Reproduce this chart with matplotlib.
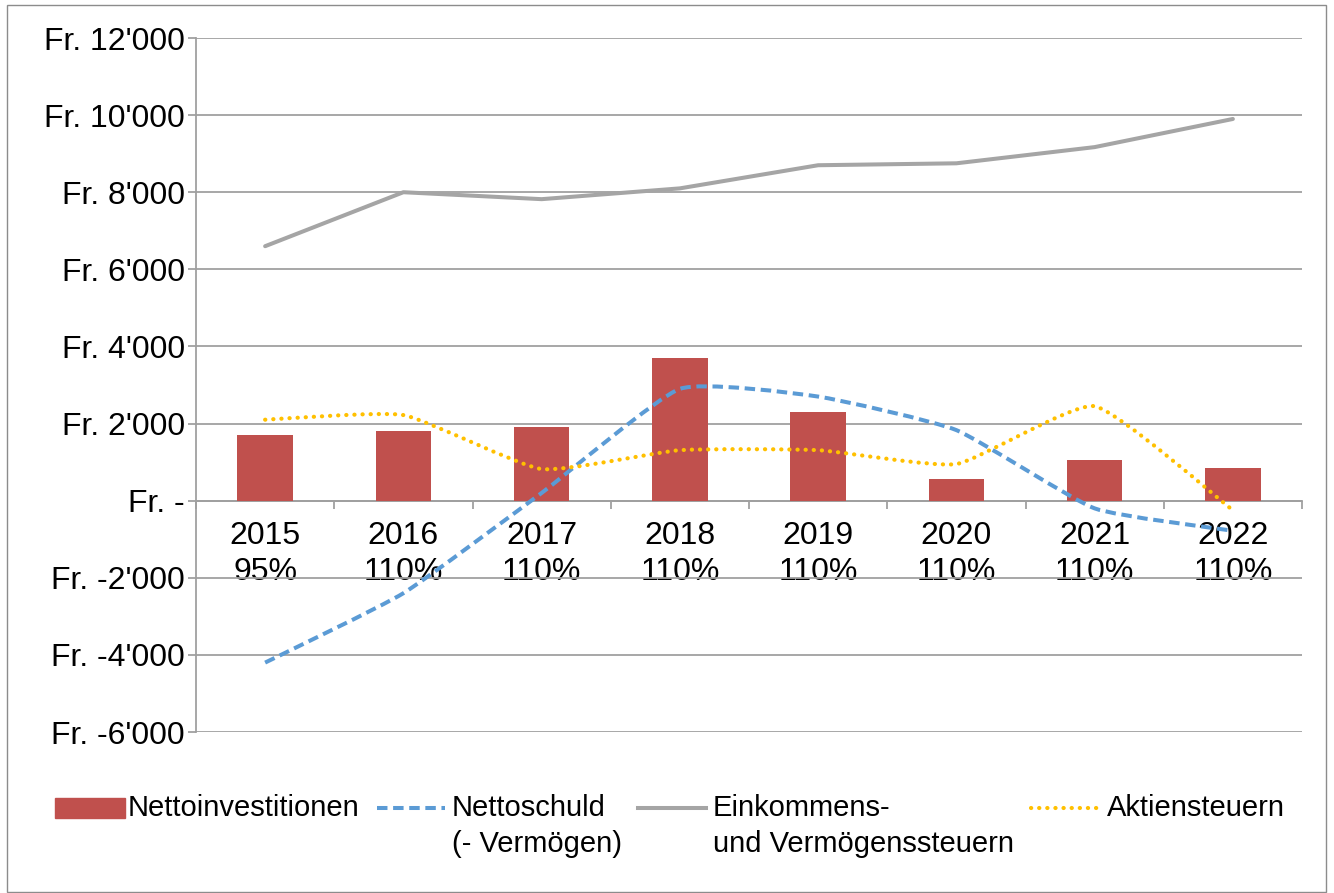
import numpy as np
import matplotlib
matplotlib.use('Agg')
import matplotlib.pyplot as plt
from matplotlib.path import Path
from matplotlib.patches import PathPatch, Rectangle
from matplotlib.lines import Line2D
from matplotlib.ticker import FixedLocator

plt.rcParams['font.family'] = ['Liberation Sans', 'DejaVu Sans']

jahre = ['2015', '2016', '2017', '2018', '2019', '2020', '2021', '2022']
steuerfuss = ['95%', '110%', '110%', '110%', '110%', '110%', '110%', '110%']

nettoinvestitionen = [1700, 1800, 1900, 3700, 2300, 550, 1050, 850]
nettoschuld = [-4200, -2400, 200, 2900, 2700, 1830, -200, -780]
einkommenssteuern = [6600, 8000, 7820, 8100, 8700, 8750, 9170, 9900]
aktiensteuern = [2100, 2220, 820, 1310, 1310, 950, 2450, -250]

y_ticks = [-6000, -4000, -2000, 0, 2000, 4000, 6000, 8000, 10000, 12000]
y_labels = ["Fr. -6'000", "Fr. -4'000", "Fr. -2'000", "Fr. -", "Fr. 2'000",
            "Fr. 4'000", "Fr. 6'000", "Fr. 8'000", "Fr. 10'000", "Fr. 12'000"]

c_bar = '#C0504D'
c_blue = '#5B9BD5'
c_gray = '#A5A5A5'
c_yellow = '#FFC000'
c_grid = '#A0A0A0'


def smooth_path(xs, ys, k=0.08):
    # Excel-artige Glaettung: Bezier-Kurven durch die Punkte
    pts = np.column_stack([xs, ys]).astype(float)
    n = len(pts)
    verts = [pts[0]]
    codes = [Path.MOVETO]
    for i in range(n - 1):
        p0 = pts[max(i - 1, 0)]
        p1 = pts[i]
        p2 = pts[i + 1]
        p3 = pts[min(i + 2, n - 1)]
        c1 = p1 + (p2 - p0) * k
        c2 = p2 - (p3 - p1) * k
        verts += [c1, c2, p2]
        codes += [Path.CURVE4] * 3
    return Path(verts, codes)


fig = plt.figure(figsize=(13.34, 8.93), dpi=100)
ax = fig.add_axes([196 / 1334, 1 - 732 / 893, (1302 - 196) / 1334, (732 - 38) / 893])

x = np.arange(len(jahre))

ax.bar(x, nettoinvestitionen, width=0.4, color=c_bar, zorder=3)
ax.plot(x, einkommenssteuern, color=c_gray, lw=2.9, solid_capstyle='round', zorder=4)

blue = PathPatch(smooth_path(x, nettoschuld), fill=False, edgecolor=c_blue, lw=2.9,
                 linestyle=(0, (2.6, 1.4)), capstyle='butt', zorder=5)
ax.add_patch(blue)
yellow = PathPatch(smooth_path(x, aktiensteuern), fill=False, edgecolor=c_yellow, lw=3.0,
                   linestyle=(0, (0.05, 1.9)), capstyle='round', zorder=6)
ax.add_patch(yellow)

ax.set_xlim(-0.5, len(jahre) - 0.5)
ax.set_ylim(-6000, 12000)

ax.set_yticks(y_ticks)
ax.set_yticklabels(y_labels, fontsize=23)
ax.yaxis.grid(True, color=c_grid, lw=1.3, zorder=0)
ax.set_axisbelow(True)
ax.tick_params(axis='y', length=6, width=1.3, color=c_grid, pad=2)

ax.spines['top'].set_visible(False)
ax.spines['right'].set_visible(False)
ax.spines['left'].set_color(c_grid)
ax.spines['left'].set_linewidth(1.3)
ax.spines['bottom'].set_position(('data', 0))
ax.spines['bottom'].set_color(c_grid)
ax.spines['bottom'].set_linewidth(1.3)

ax.xaxis.set_major_locator(FixedLocator(np.arange(-0.5, len(jahre), 1.0)))
ax.xaxis.set_minor_locator(FixedLocator(x))
ax.tick_params(axis='x', which='major', length=6, width=1.3, color=c_grid, labelbottom=False)
ax.set_xticks(x, [f'{j}\n{s}' for j, s in zip(jahre, steuerfuss)], minor=True)
ax.tick_params(axis='x', which='minor', length=0, pad=15, labelsize=23)
for lbl in ax.get_xticklabels(minor=True):
    lbl.set_linespacing(1.25)

# Legende von Hand
ly = 1 - 808 / 893
fs_leg = 21
fig.patches.append(Rectangle((55 / 1334, 1 - 818 / 893), 70 / 1334, 20 / 893,
                             transform=fig.transFigure, color=c_bar))
fig.text(128 / 1334, ly, 'Nettoinvestitionen', fontsize=fs_leg, va='center')
fig.add_artist(Line2D([377 / 1334, 445 / 1334], [ly, ly], transform=fig.transFigure,
                      color=c_blue, lw=2.9, linestyle=(0, (2.6, 1.4))))
fig.text(452 / 1334, ly, 'Nettoschuld', fontsize=fs_leg, va='center')
fig.text(452 / 1334, 1 - 844 / 893, '(- Vermögen)', fontsize=fs_leg, va='center')
fig.add_artist(Line2D([638 / 1334, 706 / 1334], [ly, ly], transform=fig.transFigure,
                      color=c_gray, lw=2.9))
fig.text(713 / 1334, ly, 'Einkommens-', fontsize=fs_leg, va='center')
fig.text(713 / 1334, 1 - 844 / 893, 'und Vermögenssteuern', fontsize=fs_leg, va='center')
fig.add_artist(Line2D([1031 / 1334, 1100 / 1334], [ly, ly], transform=fig.transFigure,
                      color=c_yellow, lw=3.0, linestyle=(0, (0.05, 1.9)),
                      dash_capstyle='round'))
fig.text(1107 / 1334, ly, 'Aktiensteuern', fontsize=fs_leg, va='center')

# Rahmen um die Grafik
fig.patches.append(Rectangle((7 / 1334, 1 / 893), 1319 / 1334, 887 / 893,
                             transform=fig.transFigure, fill=False,
                             edgecolor='#8C8C8C', lw=1.0))

fig.savefig('out.png', dpi=100)
